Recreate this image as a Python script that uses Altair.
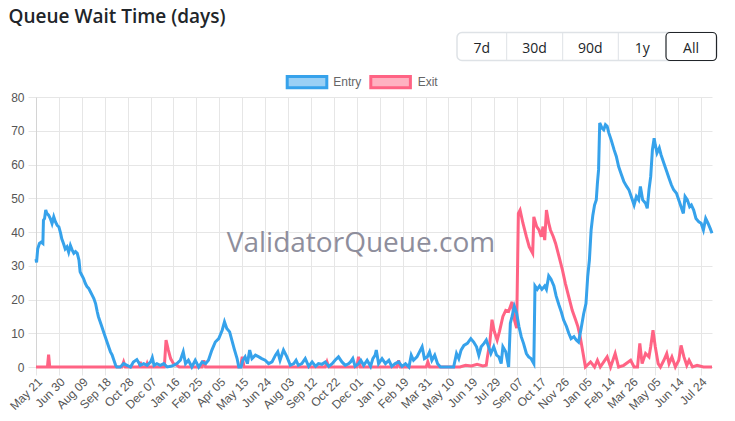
import altair as alt
import pandas as pd

START = "2023-05-21"

# ---- data (day offsets from START, wait time in days) ----
entry_days = [
    0, 1, 3, 6, 9, 12, 13, 15, 17, 19, 22, 25, 28, 31, 34, 37, 40, 43, 45, 48,
    51, 54, 57, 60, 63, 66, 69, 72, 75, 77, 80, 83, 86, 89, 92, 95, 98, 101, 104, 107,
    109, 112, 115, 118, 121, 124, 127, 130, 133, 136, 139, 141,
    147, 153, 159, 165, 170, 176, 182, 188, 194, 200, 203, 206, 211, 217, 223, 229,
    235, 240, 246, 252, 257, 261, 266, 272, 278, 284, 290, 296, 301, 307, 313, 319, 325, 329, 333, 338,
    342, 346, 351, 354, 358, 361, 365, 369, 373, 377, 383, 389, 394, 400, 406, 412, 418, 422, 426, 432,
    438, 444, 450, 454, 458, 464, 470, 476, 482, 488, 493, 499, 505, 511, 517, 522, 528, 534, 540, 546,
    549, 553, 557, 563, 567, 572, 578, 584, 588, 592, 594, 598, 604, 610, 616, 621, 627, 633, 639, 645,
    651, 655, 659, 665, 671, 674, 678, 683, 687, 691, 696, 701, 706,
    717, 729, 734, 738, 742, 747, 753, 759, 764, 769, 773, 777, 782, 786, 790, 794, 799, 804, 808, 812,
    815, 820, 825, 828, 831, 835, 839, 843, 847, 851, 856, 860, 864, 869, 871, 875, 879, 883, 888, 891,
    895, 899, 904, 908, 913, 917, 921, 926, 930, 934, 939, 943, 947,
    951, 956, 960, 963, 966, 969, 972, 975, 978, 980, 982, 984, 988, 991, 994, 997, 1000, 1004, 1009, 1013,
    1017, 1021, 1026, 1031, 1035, 1039, 1044, 1048, 1052, 1055, 1059, 1064, 1067, 1070, 1073, 1076, 1079, 1081, 1084, 1088,
    1091, 1096, 1101, 1105, 1109, 1113, 1118, 1122, 1126, 1130, 1133, 1137, 1141, 1144, 1148, 1152, 1157, 1161, 1165, 1169,
    1173, 1177, 1180,
]
entry_vals = [
    32, 31, 35, 36.6, 37, 36.6, 43.5, 44, 46.5, 45.5, 45, 44, 42.5, 44.5, 43, 42, 41.5, 39.6, 38, 36.6,
    35, 35.6, 34, 36, 34.7, 33.7, 34.2, 33.7, 31.7, 28.2, 27.2, 26.2, 24.8, 23.8, 23.3, 22.3, 21.3, 20.3, 18.8, 16.3,
    14.9, 13.4, 11.9, 10.4, 8.9, 7.4, 5.9, 4.5, 3.5, 2, 0.5, 0,
    0, 1, 0.5, 0, 1.5, 2.2, 0.5, 1, 0.5, 1.5, 2.8, 0.5, 1, 0.5, 1, 0,
    0.2, 0.5, 1, 2, 4.5, 1, 2, 0, 2, 0, 1.5, 1, 2, 5, 7.4, 8.4, 10.9, 13.4, 11.4, 10.4,
    7.9, 5.4, 2.5, 0, 0, 2, 3, 1, 5, 2.5, 3.5, 3, 2.5, 2, 1, 1.5, 3.5, 4.5, 2, 5,
    3, 0.5, 1, 2, 0.5, 1, 2.5, 0.2, 1.5, 0.2, 1, 0.8, 1.5, 0.2, 1, 2, 3, 1.5, 0.5, 1,
    1.5, 2.5, 0.2, 1, 2, 0.5, 2, 0.2, 2.5, 3.5, 5, 1, 2.5, 1, 2, 0.2, 1, 1.5, 0.2, 1,
    0, 3.5, 2, 3, 5, 6, 2.5, 3, 4.5, 2, 3.5, 1, 0,
    0, 0, 4, 2.5, 5, 6.4, 7, 8.4, 7.4, 6, 3.5, 6, 7, 8, 6, 4, 6, 3.5, 3, 1,
    6, 4.5, 0, 13, 15, 18, 16, 12, 9, 7, 4, 3, 2.5, 1, 24, 23, 24, 23, 24, 23,
    27, 26, 24, 21, 18.3, 16.3, 13.9, 12, 10, 8.4, 9, 8, 7.4,
    10.9, 15.8, 18.8, 26.7, 31.7, 40.6, 45, 48, 49.5, 54.5, 58.4, 72.3, 70.8, 70.3, 71.8, 71.3, 69.3, 67.3, 64.4, 62.4,
    59.4, 57.4, 55, 53.5, 52.5, 50.5, 48, 50.5, 49.5, 53.5, 49.5, 48.5, 47, 52.5, 56.4, 64.4, 67.8, 65.8, 63.4, 64.9,
    62.9, 60.4, 57.9, 55.9, 54, 52.5, 51.5, 49.5, 47.5, 45.5, 50.5, 49.5, 47.5, 48, 46.5, 44, 43, 42.6, 40.6, 44,
    42.6, 41, 39.6,
]

exit_days = [
    0, 20, 22, 24, 150, 153, 156, 180, 182, 184, 192, 194, 196, 224, 227, 231, 235, 240, 246, 250,
    290, 293, 296, 357, 360, 363, 505, 508, 511, 560, 563, 566, 630, 633, 636, 681, 684, 687, 740, 750,
    760, 770, 780, 786, 788, 792, 796, 800, 805, 809, 815, 820, 825, 831, 835, 839, 842, 845, 850, 856,
    861, 867, 869, 874, 878, 882, 885, 888, 891, 895, 898, 903, 907, 913, 919, 924, 930, 936, 942, 946,
    950, 955, 959, 968, 975, 980, 985, 991, 997, 1003, 1011, 1017, 1026, 1038, 1044, 1050, 1054, 1058, 1064, 1070,
    1073, 1077, 1081, 1086, 1090, 1096, 1101, 1105, 1110, 1116, 1122, 1126, 1131, 1136, 1140, 1146, 1154, 1165, 1175, 1180,
]
exit_vals = [
    0, 0, 3.7, 0, 0, 1.5, 0, 0, 1.5, 0, 0, 1, 0, 0, 8, 5, 2.5, 1, 0.5, 0,
    0, 2, 0, 0, 3, 0, 0, 1.5, 0, 0, 3, 0, 0, 2, 0, 0, 1.5, 0, 0, 0.5,
    0.3, 0.8, 0.3, 0.5, 3, 7, 14, 10.5, 8, 10.5, 15, 16.8, 16.5, 19.3, 14, 11.5, 45.5, 46.5, 42.6, 38.6,
    35.6, 33.7, 44.5, 41.6, 40.6, 38.6, 41.6, 37.6, 46.5, 42.6, 40.6, 38.6, 36.6, 32.7, 28.7, 24.8, 20.8, 16.8, 13.9, 11.9,
    8.9, 4, 0, 1.5, 0, 2, 0, 1.5, 3, 0, 4, 0, 0.5, 2, 0, 0, 7, 1, 4, 3,
    6, 10.9, 6, 1, 0, 2, 4, 1, 3, 0, 2, 6.4, 3, 0.5, 2, 0, 0.5, 0, 0, 0,
]

tick_dates = [
    "2023-05-21", "2023-06-30", "2023-08-09", "2023-09-18", "2023-10-28", "2023-12-07",
    "2024-01-16", "2024-02-25", "2024-04-05", "2024-05-15", "2024-06-24", "2024-08-03",
    "2024-09-12", "2024-10-22", "2024-12-01", "2025-01-10", "2025-02-19", "2025-03-31",
    "2025-05-10", "2025-06-19", "2025-07-29", "2025-09-07", "2025-10-17", "2025-11-26",
    "2026-01-05", "2026-02-14", "2026-03-26", "2026-05-05", "2026-06-14", "2026-07-24",
]
y_ticks = [0, 10, 20, 30, 40, 50, 60, 70, 80]
series_names = ["Entry", "Exit"]
series_colors = ["#36A2EB", "#FF6384"]
legend_fills = ["#9AD0F5", "#FFB1C1"]
buttons = ["7d", "30d", "90d", "1y", "All"]

assert len(entry_days) == len(entry_vals)
assert len(exit_days) == len(exit_vals)


def to_dates(days):
    idx = pd.Timestamp(START) + pd.to_timedelta(days, unit="D")
    return idx.strftime("%Y-%m-%d").tolist()


df_entry = pd.DataFrame({"date": to_dates(entry_days), "value": entry_vals, "series": "Entry"})
df_exit = pd.DataFrame({"date": to_dates(exit_days), "value": exit_vals, "series": "Exit"})
tick_ms = [int(pd.Timestamp(d).value // 10**6) for d in tick_dates]

GRID = "#e6e6e6"
AXIS_FONT = "Liberation Sans"

x_enc = alt.X(
    "date:T",
    scale=alt.Scale(type="utc", nice=False),
    axis=alt.Axis(
        values=tick_ms, labelExpr="utcFormat(datum.value, '%b %d')", labelAngle=315,
        labelAlign="right", labelBaseline="top", labelOverlap=False, labelFlush=False,
        tickSize=8, tickColor=GRID, gridColor=GRID, domainColor="#d4d4d4",
        labelFont=AXIS_FONT, labelFontSize=12, labelColor="#555", labelPadding=1,
    ),
    title=None,
)
y_enc = alt.Y(
    "value:Q",
    scale=alt.Scale(domain=[0, 80], nice=False),
    axis=alt.Axis(
        values=y_ticks, tickSize=8, tickColor=GRID, gridColor=GRID, domainColor="#d4d4d4",
        labelFont=AXIS_FONT, labelFontSize=12, labelColor="#555", labelPadding=4,
    ),
    title=None,
)
color_enc = alt.Color("series:N", scale=alt.Scale(domain=series_names, range=series_colors), legend=None)

one = pd.DataFrame({"k": [0]})

watermark = alt.Chart(one).mark_text(
    text="ValidatorQueue.com", font="Open Sans", fontSize=28, color="#8e8e9c",
    align="center", baseline="middle",
).encode(x=alt.value(325), y=alt.value(147))

exit_line = alt.Chart(df_exit).mark_line(strokeWidth=3).encode(x=x_enc, y=y_enc, color=color_enc)
entry_line = alt.Chart(df_entry).mark_line(strokeWidth=3).encode(x=x_enc, y=y_enc, color=color_enc)

title = alt.Chart(one).mark_text(
    text="Queue Wait Time (days)", font="Open Sans", fontSize=19, fontWeight=600,
    color="#212529", align="left", baseline="alphabetic",
).encode(x=alt.value(-27.5), y=alt.value(-74))

# legend
legend_layers = []
legend_box_x = [251.2, 334.8]
legend_text_x = [297.3, 381.7]
for i, name in enumerate(series_names):
    legend_layers.append(
        alt.Chart(one).mark_rect(fill=legend_fills[i], stroke=series_colors[i], strokeWidth=3).encode(
            x=alt.value(legend_box_x[i]), x2=alt.value(legend_box_x[i] + 39.6),
            y=alt.value(-20.5), y2=alt.value(-9.2),
        )
    )
    legend_layers.append(
        alt.Chart(one).mark_text(
            text=name, font=AXIS_FONT, fontSize=12, color="#666", align="left", baseline="alphabetic"
        ).encode(x=alt.value(legend_text_x[i]), y=alt.value(-11.2))
    )

# range buttons
btn_layers = [
    alt.Chart(one).mark_rect(fill="white", stroke="#dee2e6", strokeWidth=1.5, cornerRadius=5).encode(
        x=alt.value(421), x2=alt.value(680.5), y=alt.value(-64.5), y2=alt.value(-36.5)
    )
]
for dx in [470.7, 526.7, 582.3]:
    btn_layers.append(
        alt.Chart(one).mark_rule(color="#dee2e6", strokeWidth=1).encode(
            x=alt.value(dx), y=alt.value(-64), y2=alt.value(-37)
        )
    )
btn_layers.append(
    alt.Chart(one).mark_rect(fill="white", stroke="#212529", strokeWidth=1.2, cornerRadius=4).encode(
        x=alt.value(630), x2=alt.value(680.5), y=alt.value(-64.5), y2=alt.value(-36.5)
    )
)
btn_centers = [445.7, 498.5, 554.3, 606.3, 655]
for label, cx in zip(buttons, btn_centers):
    btn_layers.append(
        alt.Chart(one).mark_text(
            text=label, font="Open Sans", fontSize=14, color="#212529", align="center", baseline="alphabetic"
        ).encode(x=alt.value(cx), y=alt.value(-44.5))
    )

chart = alt.layer(
    watermark, exit_line, entry_line, title, *legend_layers, *btn_layers
).properties(
    width=676, height=270,
    autosize=alt.AutoSizeParams(type="none"),
    padding={"left": 28, "top": 89, "right": 10, "bottom": 50},
    background="white",
).configure_view(stroke=None)

chart.save("out.html", embed_options={"renderer": "svg", "actions": False})
